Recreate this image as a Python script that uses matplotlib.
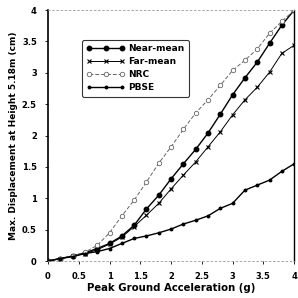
import matplotlib.pyplot as plt

# peak ground acceleration (g)
pga = [0, 0.2, 0.4, 0.6, 0.8, 1.0, 1.2, 1.4, 1.6, 1.8, 2.0,
       2.2, 2.4, 2.6, 2.8, 3.0, 3.2, 3.4, 3.6, 3.8, 4.0]

# max displacement at height 5.18m (cm)
near_mean = [0, 0.04, 0.08, 0.13, 0.20, 0.28, 0.40, 0.57, 0.83, 1.05, 1.31,
             1.55, 1.78, 2.04, 2.34, 2.65, 2.92, 3.17, 3.47, 3.76, 4.0]
far_mean = [0, 0.04, 0.08, 0.12, 0.18, 0.27, 0.38, 0.55, 0.73, 0.92, 1.15,
            1.37, 1.58, 1.82, 2.06, 2.33, 2.57, 2.77, 3.01, 3.31, 3.44]
nrc = [0, 0.04, 0.08, 0.14, 0.25, 0.45, 0.72, 0.97, 1.26, 1.56, 1.82,
       2.10, 2.36, 2.57, 2.80, 3.04, 3.20, 3.38, 3.63, 3.82, 4.0]
pbse = [0, 0.04, 0.07, 0.12, 0.15, 0.20, 0.28, 0.36, 0.40, 0.45, 0.51,
        0.59, 0.65, 0.72, 0.84, 0.92, 1.13, 1.21, 1.29, 1.43, 1.55]

fig = plt.figure(figsize=(2.98, 2.98), dpi=100)
ax = fig.add_axes([0.161, 0.124, 0.826, 0.842])

ax.plot(pga, near_mean, color="black", lw=1, marker="o", ms=3.2, label="Near-mean")
ax.plot(pga, far_mean, color="black", lw=0.7, marker="x", ms=3.2, mew=0.8, label="Far-mean")
ax.plot(pga, nrc, color="#666666", lw=0.7, ls=(0, (4, 2)), marker="o", ms=3.2,
        mfc="white", mec="#666666", mew=0.6, label="NRC")
ax.plot(pga, pbse, color="black", lw=1, marker="o", ms=1.8, label="PBSE")

ax.set_xlim(0, 4)
ax.set_ylim(0, 4)
ax.set_xticks([0, 0.5, 1, 1.5, 2, 2.5, 3, 3.5, 4])
ax.set_xticklabels(["0", "0.5", "1", "1.5", "2", "2.5", "3", "3.5", "4"])
ax.set_yticks([0, 0.5, 1, 1.5, 2, 2.5, 3, 3.5, 4])
ax.set_yticklabels(["0", "0.5", "1", "1.5", "2", "2.5", "3", "3.5", "4"])
ax.tick_params(labelsize=6, length=2, width=0.6, pad=6)
for lbl in ax.get_xticklabels() + ax.get_yticklabels():
    lbl.set_fontweight("bold")

ax.spines["left"].set_linewidth(1.2)
ax.spines["right"].set_linewidth(1.0)
for s in ["top", "bottom"]:
    ax.spines[s].set_linestyle((0, (2, 3)))
    ax.spines[s].set_color("#999999")
    ax.spines[s].set_linewidth(0.6)

ax.set_xlabel("Peak Ground Acceleration (g)", fontsize=7.3, fontweight="bold", labelpad=1)
ax.set_ylabel("Max. Displacement at Height 5.18m (cm)", fontsize=6.5, fontweight="bold", labelpad=3)

leg = ax.legend(loc="upper left", bbox_to_anchor=(0.12, 0.9), fontsize=6.5,
                numpoints=3, handlelength=4.2, frameon=True, fancybox=True,
                borderpad=0.5, labelspacing=0.45, handletextpad=0.4)
leg.get_frame().set_edgecolor("black")
leg.get_frame().set_linewidth(0.8)
for t in leg.get_texts():
    t.set_fontweight("bold")

fig.savefig("out.png", dpi=100)
